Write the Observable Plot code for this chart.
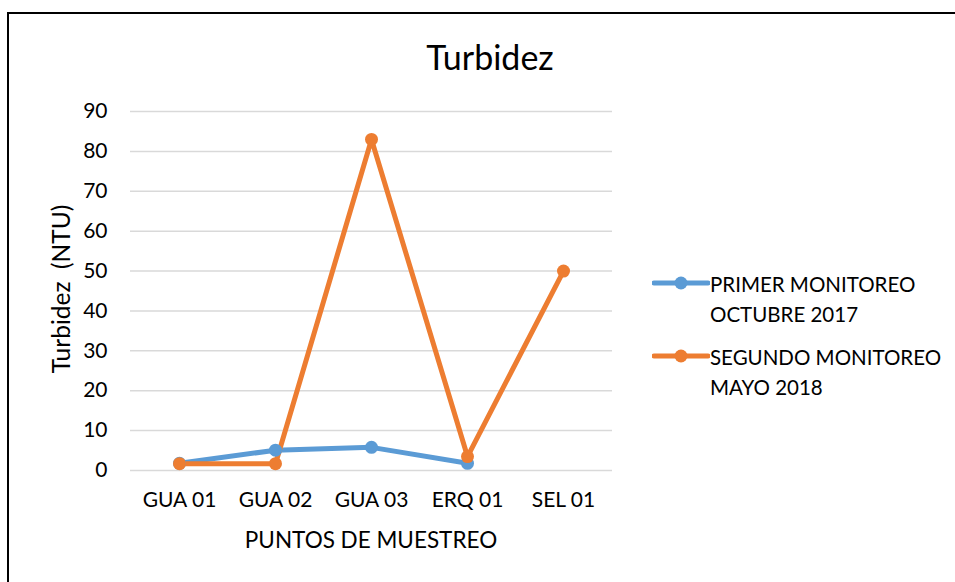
<!DOCTYPE html>
<html>
<head>
<meta charset="utf-8">
<script src="https://cdn.jsdelivr.net/npm/d3@7"></script>
<script src="https://cdn.jsdelivr.net/npm/@observablehq/plot@0.6"></script>
<style>
  html, body { margin: 0; padding: 0; background: #fff; }
  body { width: 955px; height: 582px; position: relative; overflow: hidden; font-family: Lato, "Open Sans", sans-serif; color: #000; }
  #frame { position: absolute; left: 7px; top: 12px; width: 1000px; height: 620px; border: 2px solid #000; box-sizing: border-box; }
  #chart { position: absolute; left: 0; top: 0; }
  .lbl { position: absolute; white-space: nowrap; color: #000; }
  #title { left: 0; width: 980px; top: 36px; text-align: center; font-size: 34px; line-height: 42px; }
  #xlabel { left: 371px; top: 526px; transform: translateX(-50%); font-size: 22.5px; line-height: 28px; }
  #ylabel { left: 60px; top: 289px; transform: translate(-50%, -50%) rotate(-90deg); font-size: 24.5px; }
  #legend { position: absolute; left: 652px; top: 269px; font-size: 20.5px; line-height: 30px; }
  .item { display: flex; align-items: flex-start; margin-bottom: 13px; }
  .sw { width: 58px; height: 30px; flex: none; }
</style>
</head>
<body>
<div id="frame"></div>
<div id="chart"></div>
<div class="lbl" id="title">Turbidez</div>
<div class="lbl" id="xlabel">PUNTOS DE MUESTREO</div>
<div class="lbl" id="ylabel">Turbidez&nbsp;&nbsp;(NTU)</div>
<div id="legend"></div>
<script>
const categories = ["GUA 01", "GUA 02", "GUA 03", "ERQ 01", "SEL 01"];
const seriesNames = ["PRIMER MONITOREO OCTUBRE 2017", "SEGUNDO MONITOREO MAYO 2018"];
const primer = [1.8, 5.1, 5.8, 1.8, null];
const segundo = [1.7, 1.7, 83, 3.5, 50];
const yTicks = [0, 10, 20, 30, 40, 50, 60, 70, 80, 90];
const colors = ["#5B9BD5", "#ED7D31"];

const data = [];
[primer, segundo].forEach((vals, s) => {
  vals.forEach((v, i) => {
    if (v != null) data.push({ serie: seriesNames[s], cat: categories[i], value: v });
  });
});

const chart = Plot.plot({
  width: 955,
  height: 582,
  marginLeft: 130,
  marginRight: 343,
  marginTop: 111,
  marginBottom: 112,
  style: { fontFamily: "Lato, 'Open Sans', sans-serif", fontSize: "21px", color: "#000", background: "transparent" },
  x: { type: "point", domain: categories, padding: 0.5, label: null },
  y: { domain: [0, 90], ticks: yTicks, label: null },
  color: { domain: seriesNames, range: colors },
  marks: [
    Plot.gridY(yTicks, { stroke: "#D9D9D9", strokeOpacity: 1, strokeWidth: 1.5 }),
    Plot.axisY(yTicks, { tickSize: 0, tickPadding: 23, fontSize: 21, label: null }),
    Plot.axisX(categories, { tickSize: 0, tickPadding: 22, fontSize: 21, label: null }),
    Plot.line(data, { x: "cat", y: "value", z: "serie", stroke: "serie", strokeWidth: 5, strokeLinejoin: "round" }),
    Plot.dot(data, { x: "cat", y: "value", fill: "serie", r: 6.5, stroke: null })
  ]
});
document.getElementById("chart").appendChild(chart);

const legend = document.getElementById("legend");
seriesNames.forEach((name, i) => {
  const parts = i === 0 ? ["PRIMER MONITOREO", "OCTUBRE 2017"] : ["SEGUNDO MONITOREO", "MAYO 2018"];
  const item = document.createElement("div");
  item.className = "item";
  item.innerHTML = `<svg class="sw" viewBox="0 0 58 30"><line x1="2" x2="56" y1="14" y2="14" stroke="${colors[i]}" stroke-width="5" stroke-linecap="round"/><circle cx="29" cy="14" r="6.5" fill="${colors[i]}"/></svg><div>${parts[0]}<br>${parts[1]}</div>`;
  legend.appendChild(item);
});
</script>
</body>
</html>
